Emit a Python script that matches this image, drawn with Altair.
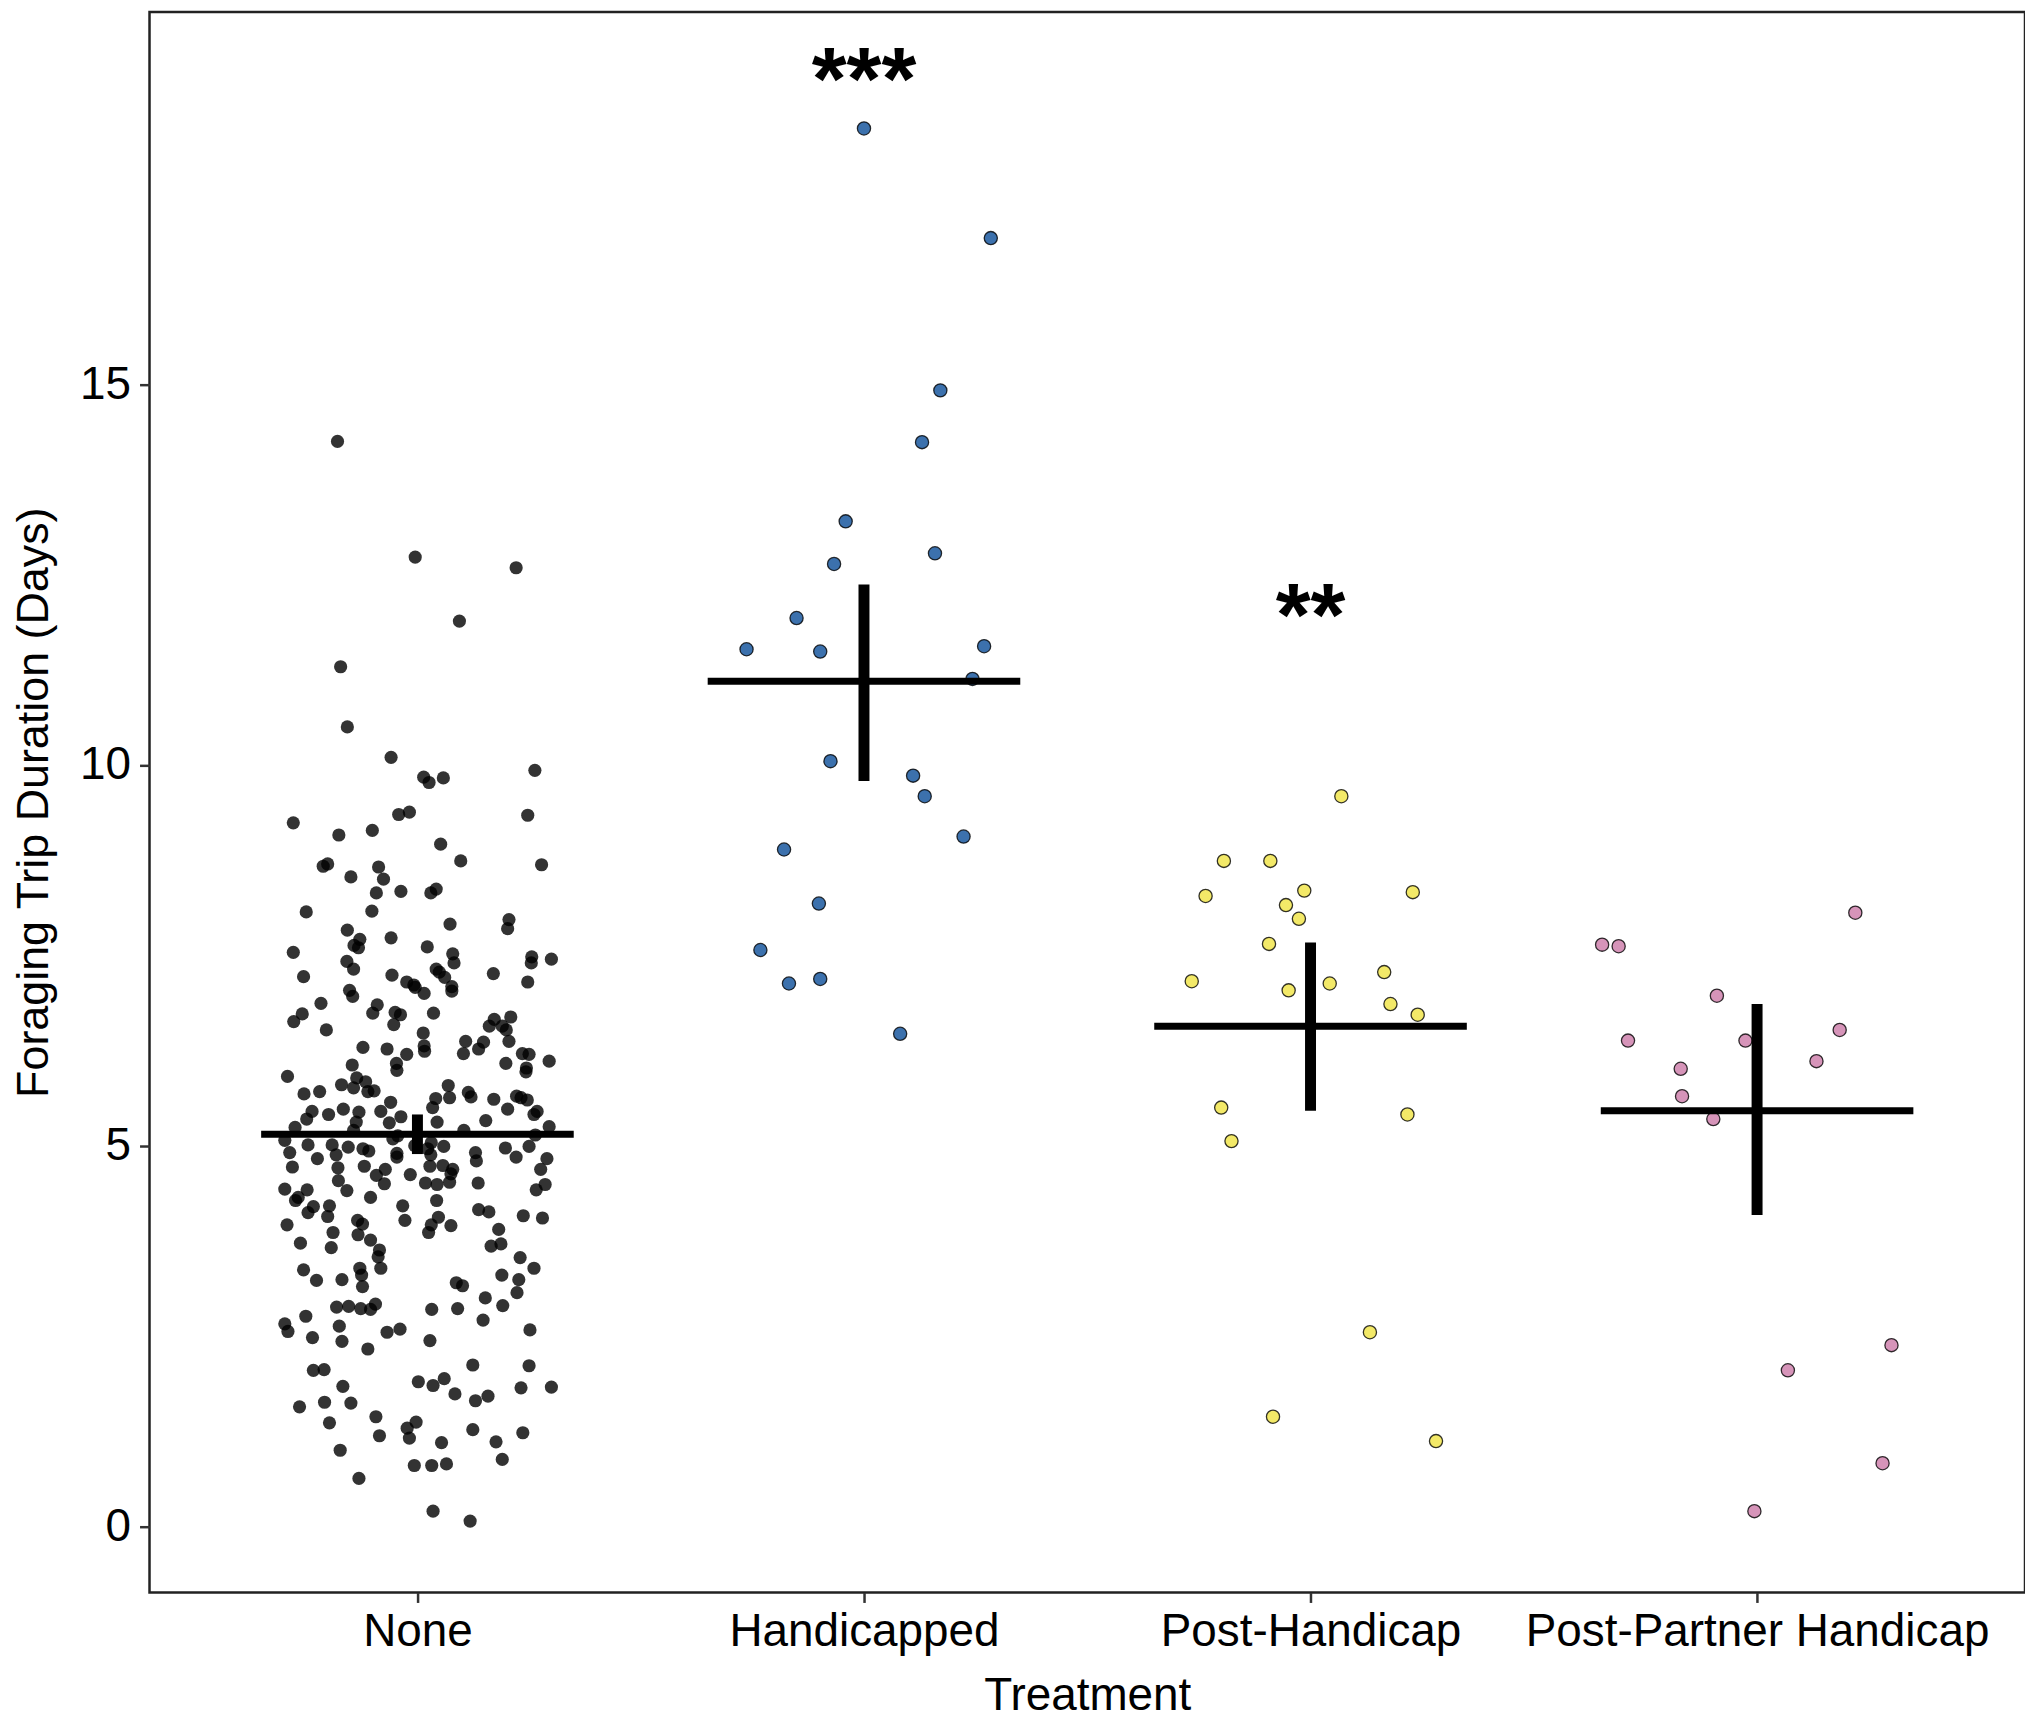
import altair as alt
import pandas as pd

treatments = ["None", "Handicapped", "Post-Handicap", "Post-Partner Handicap"]

# (horizontal jitter offset, foraging trip duration in days)
none_points = [
    (-0.179, 14.25), (-0.005, 12.73), (0.221, 12.59), (0.094, 11.89), (-0.172, 11.29),
    (-0.157, 10.50), (-0.059, 10.10), (0.014, 9.84), (0.026, 9.77), (0.058, 9.83),
    (0.263, 9.93), (-0.042, 9.35), (-0.018, 9.38), (0.247, 9.34), (-0.278, 9.24),
    (-0.176, 9.08), (-0.101, 9.14), (0.052, 8.96), (0.097, 8.74), (0.278, 8.69),
    (-0.211, 8.67), (-0.201, 8.70), (-0.087, 8.66), (-0.076, 8.50), (-0.149, 8.53),
    (-0.092, 8.32), (-0.037, 8.34), (0.030, 8.32), (0.042, 8.37), (-0.249, 8.07),
    (-0.102, 8.08), (0.073, 7.91), (0.205, 7.97), (0.202, 7.85), (-0.157, 7.83),
    (-0.129, 7.71), (-0.142, 7.63), (-0.132, 7.60), (-0.059, 7.73), (0.022, 7.61),
    (-0.278, 7.54), (0.079, 7.52), (0.082, 7.40), (-0.158, 7.42), (-0.143, 7.32),
    (0.256, 7.48), (0.255, 7.40), (0.300, 7.45), (-0.255, 7.22), (-0.057, 7.24),
    (0.042, 7.32), (0.049, 7.28), (0.061, 7.21), (0.170, 7.26), (-0.024, 7.15),
    (-0.008, 7.11), (-0.005, 7.08), (0.015, 7.00), (0.077, 7.09), (0.077, 7.03),
    (0.247, 7.15), (-0.152, 7.04), (-0.145, 6.96), (-0.216, 6.87), (-0.258, 6.73),
    (-0.277, 6.63), (-0.204, 6.52), (-0.090, 6.85), (-0.100, 6.74), (-0.050, 6.75),
    (-0.038, 6.72), (-0.053, 6.59), (0.036, 6.74), (0.013, 6.48), (0.172, 6.66),
    (0.161, 6.57), (0.209, 6.69), (0.190, 6.57), (0.199, 6.52),
    (-0.122, 6.29), (-0.068, 6.27), (0.015, 6.31), (0.016, 6.24), (-0.024, 6.20),
    (0.108, 6.37), (0.103, 6.21), (0.148, 6.36), (0.137, 6.27), (0.205, 6.37),
    (0.235, 6.21), (0.250, 6.20), (0.295, 6.11), (0.198, 6.08), (0.244, 6.02),
    (0.243, 5.97), (-0.047, 6.08), (-0.046, 5.99), (-0.146, 6.06), (-0.291, 5.91),
    (-0.136, 5.89), (-0.116, 5.84), (-0.170, 5.80), (-0.143, 5.76), (-0.111, 5.71),
    (-0.097, 5.72), (-0.254, 5.68), (-0.219, 5.71), (0.069, 5.79), (0.072, 5.63),
    (0.114, 5.70), (0.120, 5.64), (0.041, 5.62), (0.171, 5.61), (0.222, 5.65),
    (0.232, 5.63), (0.246, 5.60), (-0.060, 5.57), (0.034, 5.50), (0.202, 5.48),
    (0.268, 5.45), (0.261, 5.41), (-0.236, 5.45), (-0.248, 5.35), (-0.199, 5.41),
    (-0.166, 5.48), (-0.131, 5.44), (-0.137, 5.31), (-0.082, 5.45), (-0.037, 5.38),
    (-0.063, 5.30), (0.044, 5.31), (0.153, 5.33), (-0.274, 5.24), (-0.143, 5.20),
    (0.104, 5.20), (0.295, 5.25), (0.264, 5.14), (-0.297, 5.07), (-0.245, 5.01),
    (-0.191, 5.01), (-0.155, 4.98), (-0.122, 4.96), (-0.109, 4.93), (-0.044, 5.13),
    (-0.055, 5.09), (-0.006, 5.00), (0.031, 5.04), (0.023, 4.96), (0.059, 4.99),
    (0.197, 4.97), (0.250, 4.99), (-0.286, 4.91), (-0.224, 4.83), (-0.182, 4.88),
    (-0.046, 4.90), (-0.046, 4.85), (0.030, 4.88), (0.130, 4.91), (0.132, 4.80),
    (0.221, 4.85), (0.290, 4.83), (-0.280, 4.72), (-0.178, 4.71), (-0.119, 4.73),
    (-0.072, 4.69), (-0.092, 4.61), (0.028, 4.73), (0.057, 4.74), (0.079, 4.69),
    (0.075, 4.63), (0.276, 4.69), (-0.016, 4.62), (-0.177, 4.54), (-0.074, 4.50),
    (0.018, 4.51), (0.044, 4.49), (0.072, 4.52), (0.136, 4.51), (0.286, 4.49),
    (0.266, 4.42), (-0.297, 4.43), (-0.247, 4.42), (-0.158, 4.41), (-0.267, 4.32),
    (-0.273, 4.28), (-0.105, 4.32), (0.043, 4.28), (-0.233, 4.20), (-0.197, 4.21),
    (-0.245, 4.12), (-0.201, 4.07), (-0.033, 4.21), (0.137, 4.16), (0.160, 4.13),
    (0.047, 4.06), (0.237, 4.08), (0.280, 4.05), (-0.292, 3.96), (-0.134, 4.02),
    (-0.123, 3.97), (-0.028, 4.02), (0.031, 3.96), (0.075, 3.95), (0.182, 3.90),
    (-0.189, 3.86), (-0.133, 3.83), (-0.105, 3.76), (0.025, 3.86), (-0.262, 3.72),
    (-0.193, 3.66), (-0.085, 3.63), (-0.088, 3.54), (-0.082, 3.39), (0.165, 3.68),
    (0.187, 3.71), (0.230, 3.53), (0.261, 3.39), (-0.255, 3.37), (-0.226, 3.23),
    (-0.169, 3.24), (-0.129, 3.39), (-0.125, 3.30), (-0.123, 3.15), (0.087, 3.20),
    (0.101, 3.16), (0.189, 3.30), (0.227, 3.24), (0.223, 3.07), (0.152, 3.00),
    (0.191, 2.90), (-0.181, 2.88), (-0.154, 2.89), (-0.127, 2.86), (-0.105, 2.85),
    (-0.094, 2.92), (0.032, 2.85), (0.090, 2.86), (-0.250, 2.76), (-0.297, 2.66),
    (-0.290, 2.56), (-0.175, 2.63), (0.147, 2.71), (0.252, 2.58), (-0.235, 2.48),
    (-0.169, 2.43), (-0.068, 2.55), (-0.039, 2.59), (0.028, 2.44), (-0.111, 2.33),
    (-0.233, 2.05), (-0.209, 2.06), (0.124, 2.12), (0.250, 2.11), (-0.167, 1.84),
    (0.002, 1.90), (0.035, 1.85), (0.060, 1.94), (0.084, 1.74), (0.130, 1.65),
    (0.158, 1.71), (0.232, 1.82), (0.300, 1.83), (-0.264, 1.57), (-0.208, 1.63),
    (-0.149, 1.62), (-0.093, 1.44), (-0.197, 1.36), (-0.085, 1.19), (-0.023, 1.29),
    (-0.003, 1.37), (-0.018, 1.16), (0.054, 1.10), (0.124, 1.27), (0.176, 1.11),
    (0.236, 1.23), (0.190, 0.88), (-0.173, 1.00), (-0.007, 0.80), (0.032, 0.80),
    (0.065, 0.82), (-0.131, 0.63), (0.035, 0.20), (0.118, 0.07),
]

handicapped_points = [
    (0.000, 18.36), (0.284, 16.92), (0.171, 14.92), (0.130, 14.24), (-0.041, 13.20),
    (-0.067, 12.64), (0.159, 12.78), (-0.151, 11.93), (-0.263, 11.52), (-0.098, 11.49),
    (0.269, 11.56), (0.243, 11.13), (-0.075, 10.05), (0.110, 9.86), (0.136, 9.59),
    (0.223, 9.06), (-0.179, 8.89), (-0.101, 8.18), (-0.232, 7.57), (-0.168, 7.13),
    (-0.098, 7.19), (0.081, 6.47),
]

post_handicap_points = [
    (0.069, 9.59), (-0.194, 8.74), (-0.090, 8.74), (-0.235, 8.28), (-0.055, 8.16),
    (-0.014, 8.35), (-0.026, 7.98), (0.229, 8.33), (-0.093, 7.65), (-0.266, 7.16),
    (0.043, 7.13), (-0.049, 7.04), (0.165, 7.28), (0.179, 6.86), (0.240, 6.72),
    (-0.200, 5.50), (-0.177, 5.06), (0.217, 5.41), (0.133, 2.55), (-0.084, 1.44),
    (0.281, 1.12),
]

post_partner_points = [
    (-0.347, 7.64), (-0.310, 7.62), (0.220, 8.06), (-0.090, 6.97), (-0.289, 6.38),
    (-0.026, 6.38), (0.185, 6.52), (-0.171, 6.01), (0.133, 6.11), (-0.168, 5.65),
    (-0.098, 5.35), (0.069, 2.05), (0.301, 2.38), (0.281, 0.83), (-0.006, 0.20),
]

group_means = [5.15, 11.10, 6.57, 5.46]
se_low = [4.89, 9.79, 5.46, 4.09]
se_high = [5.41, 12.37, 7.67, 6.86]

sig_labels = ["***", "**"]
sig_groups = [2, 3]
sig_heights = [18.61, 11.57]

fill_colors = ["#000000", "#0b4d98", "#F0E442", "#CC79A7"]

rows = []
for gi, pts in enumerate([none_points, handicapped_points, post_handicap_points, post_partner_points], start=1):
    for j, d in pts:
        rows.append({"treatment": treatments[gi - 1], "pos": gi + j, "days": d})
df = pd.DataFrame(rows)

summary = pd.DataFrame({"idx": [1, 2, 3, 4], "mean": group_means, "lo": se_low, "hi": se_high})
sig = pd.DataFrame({"idx": sig_groups, "label": sig_labels, "y": sig_heights})

FONT = "Liberation Sans"
xscale = alt.Scale(domain=[0.4, 4.6], nice=False, zero=False)
yscale = alt.Scale(domain=[-0.868, 19.89], nice=False, zero=False)

label_expr = ("datum.value == 1 ? 'None' : datum.value == 2 ? 'Handicapped' : "
              "datum.value == 3 ? 'Post-Handicap' : 'Post-Partner Handicap'")

xaxis = alt.Axis(
    values=[1, 2, 3, 4], labelExpr=label_expr, title="Treatment", grid=False, domain=False,
    tickSize=10, tickWidth=2.5, tickColor="#333333",
    labelFont=FONT, labelFontSize=46, labelColor="black", labelPadding=7,
    labelLimit=1000, labelOverlap=False,
    titleFont=FONT, titleFontSize=46, titleFontWeight="normal", titleColor="black",
    titleBaseline="alphabetic", titleY=117,
)
yaxis = alt.Axis(
    values=[0, 5, 10, 15], title="Foraging Trip Duration (Days)", grid=False, domain=False,
    tickSize=10, tickWidth=2.5, tickColor="#333333",
    labelFont=FONT, labelFontSize=46, labelColor="black", labelPadding=9,
    labelLimit=1000,
    titleFont=FONT, titleFontSize=45, titleFontWeight="normal", titleColor="black",
    titleBaseline="alphabetic", titleX=-102, titleLimit=2000,
)

none_layer = alt.Chart(df[df.treatment == "None"]).mark_circle(
    size=175, color="black", opacity=0.8
).encode(
    x=alt.X("pos:Q", scale=xscale, axis=xaxis),
    y=alt.Y("days:Q", scale=yscale, axis=yaxis),
)

colored_layer = alt.Chart(df[df.treatment != "None"]).mark_point(
    shape="circle", filled=True, size=175, opacity=1, fillOpacity=0.8,
    stroke="black", strokeWidth=1.3, strokeOpacity=0.8,
).encode(
    x=alt.X("pos:Q", scale=xscale, axis=xaxis),
    y=alt.Y("days:Q", scale=yscale, axis=yaxis),
    fill=alt.Fill("treatment:N", scale=alt.Scale(domain=treatments[1:], range=fill_colors[1:]), legend=None),
)

mean_layer = alt.Chart(summary).transform_calculate(
    xa="datum.idx - 0.35", xb="datum.idx + 0.35"
).mark_rule(strokeWidth=7, color="black").encode(
    x=alt.X("xa:Q", scale=xscale, axis=xaxis),
    x2="xb:Q",
    y=alt.Y("mean:Q", scale=yscale, axis=yaxis),
)

se_layer = alt.Chart(summary).mark_rule(strokeWidth=11, color="black").encode(
    x=alt.X("idx:Q", scale=xscale, axis=xaxis),
    y=alt.Y("lo:Q", scale=yscale, axis=yaxis),
    y2="hi:Q",
)

sig_layer = alt.Chart(sig).mark_text(
    font=FONT, fontSize=90, fontWeight="bold", baseline="alphabetic", align="center", color="black"
).encode(
    x=alt.X("idx:Q", scale=xscale, axis=xaxis),
    y=alt.Y("y:Q", scale=yscale, axis=yaxis),
    text="label:N",
)

chart = alt.layer(none_layer, colored_layer, mean_layer, se_layer, sig_layer).properties(
    width=1882, height=1586,
    padding={"left": 142, "top": 1, "right": 0, "bottom": 126},
    autosize=alt.AutoSizeParams(type="none"),
).configure_view(stroke="#222222", strokeWidth=2.5)

chart.save("out.html", embed_options={"renderer": "svg", "actions": False})
